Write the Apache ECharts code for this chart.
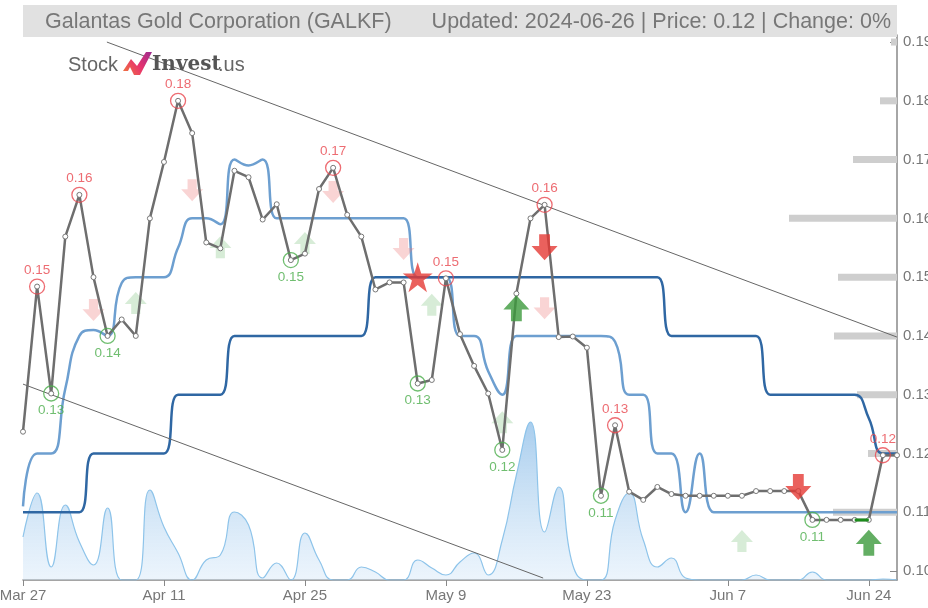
<!DOCTYPE html>
<html>
<head>
<meta charset="utf-8">
<title>GALKF</title>
<script src="https://cdn.jsdelivr.net/npm/echarts@6.0.0/dist/echarts.min.js"></script>
<style>
  html, body { margin: 0; padding: 0; background: #fff; }
  #chart { width: 928px; height: 608px; }
</style>
</head>
<body>
<div id="chart"></div>
<script>
// trading days shown on the x axis
var dates = ['Mar 27','Mar 28','Apr 1','Apr 2','Apr 3','Apr 4','Apr 5','Apr 8','Apr 9','Apr 10',
    'Apr 11','Apr 12','Apr 15','Apr 16','Apr 17','Apr 18','Apr 19','Apr 22','Apr 23','Apr 24',
    'Apr 25','Apr 26','Apr 29','Apr 30','May 1','May 2','May 3','May 6','May 7','May 8',
    'May 9','May 10','May 13','May 14','May 15','May 16','May 17','May 20','May 21','May 22',
    'May 23','May 24','May 28','May 29','May 30','May 31','Jun 3','Jun 4','Jun 5','Jun 6',
    'Jun 7','Jun 10','Jun 11','Jun 12','Jun 13','Jun 14','Jun 17','Jun 18','Jun 20','Jun 21',
    'Jun 24','Jun 25','Jun 26'];

var price = [0.1237,0.1484,0.1302,0.1569,0.1640,0.1500,0.1400,0.1428,0.1400,0.1600,
    0.1696,0.1800,0.1745,0.1559,0.1549,0.1681,0.1670,0.1598,0.1624,0.1529,
    0.1540,0.1650,0.1686,0.1606,0.1569,0.1479,0.1491,0.1491,0.1319,0.1325,
    0.1498,0.1403,0.1349,0.1302,0.1206,0.1472,0.1600,0.1623,0.1398,0.1399,
    0.1380,0.1128,0.1248,0.1135,0.1121,0.1143,0.1131,0.1128,0.1128,0.1128,
    0.1128,0.1128,0.1136,0.1136,0.1136,0.1136,0.1087,0.1087,0.1087,0.1087,
    0.1087,0.1197,0.1197];

// short moving average (light blue) and long one (dark blue)
var maShort = [0.111,0.120,0.120,0.131,0.140,0.141,0.140,0.149,0.150,0.150,
    0.150,0.155,0.160,0.160,0.159,0.170,0.169,0.170,0.160,0.160,
    0.160,0.160,0.160,0.160,0.160,0.160,0.160,0.160,0.150,0.150,
    0.150,0.140,0.140,0.134,0.130,0.140,0.140,0.140,0.140,0.140,
    0.140,0.140,0.139,0.130,0.130,0.120,0.120,0.110,0.120,0.110,
    0.110,0.110,0.110,0.110,0.110,0.110,0.110,0.110,0.110,0.110,
    0.110,0.110,0.110];
var maLong = [0.11,0.11,0.11,0.11,0.11,0.12,0.12,0.12,0.12,0.12,
    0.12,0.13,0.13,0.13,0.13,0.14,0.14,0.14,0.14,0.14,
    0.14,0.14,0.14,0.14,0.14,0.15,0.15,0.15,0.15,0.15,
    0.15,0.15,0.15,0.15,0.15,0.15,0.15,0.15,0.15,0.15,
    0.15,0.15,0.15,0.15,0.15,0.15,0.14,0.14,0.14,0.14,
    0.14,0.14,0.14,0.13,0.13,0.13,0.13,0.13,0.13,0.13,
    0.126,0.12,0.12];

var volume = [43,87,13,75,38,15,72,0,0,90,
    53,27,0,20,25,68,55,2,17,0,
    47,20,0,0,13,8,0,0,20,12,
    5,18,27,5,40,105,158,48,93,15,
    0,0,60,87,40,13,22,2,0,0,
    0,0,5,0,0,0,8,0,0,0,
    0,1,0];

// local highs / lows
var highIdx = [1,4,11,22,30,37,42,61];
var highTxt = ['0.15','0.16','0.18','0.17','0.15','0.16','0.13','0.12'];
var lowIdx = [2,6,19,28,34,41,56];
var lowTxt = ['0.13','0.14','0.15','0.13','0.12','0.11','0.11'];

// signals [day index, price level]
var sellWeak = [[5,0.1444],[12,0.1648],[22,0.1645],[27,0.1548],[37,0.1447]];
var buyWeak = [[8,0.1456],[14,0.1551],[20,0.1558],[29,0.1453],[34,0.1253],[51,0.1051]];
var sellStrong = [[37,0.1551],[55,0.1143]];
var buyStrong = [[35,0.1447],[60,0.1048]];
var starSig = [[28,0.150]];

// trend channel
var trendUpper = [[5.95,0.19],[62,0.1398]];
var trendLower = [[0,0.1318],[36.9,0.0988]];

// volume by price level
var levels = [0.19,0.18,0.17,0.16,0.15,0.14,0.13,0.12,0.11];
var levelVol = [6,17,44,108,59,63,40,29,64];

var yTicks = [0.10,0.11,0.12,0.13,0.14,0.15,0.16,0.17,0.18,0.19];

var downPath = 'path://M7,0 L17,0 L17,11 L24,11 L12,24 L0,11 L7,11 Z';
var upPath = 'path://M12,0 L24,13 L17,13 L17,24 L7,24 L7,13 L0,13 Z';
var starPath = 'path://M12,0 L14.8,8.6 L24,8.6 L16.6,14 L19.4,22.8 L12,17.4 L4.6,22.8 L7.4,14 L0,8.6 L9.2,8.6 Z';

var highPts = highIdx.map(function (d, k) { return { value: [d, price[d]], label: { formatter: highTxt[k] } }; });
var lowPts = lowIdx.map(function (d, k) { return { value: [d, price[d]], label: { formatter: lowTxt[k] } }; });

var greenSeg = price.map(function (v, i) { return (i == 59 || i == 60) ? v : null; });

var font = "'Liberation Sans', Arial, sans-serif";

var myChart = echarts.init(document.getElementById('chart'));

var option = {
    animation: false,
    grid: { left: 23, right: 31, top: 35, bottom: 28, outerBoundsMode: 'none', containLabel: false },
    graphic: [
        { type: 'rect', shape: { x: 23, y: 5, width: 874, height: 32 }, style: { fill: '#e1e1e1' }, z: 10 },
        { type: 'text', x: 45, y: 22, z: 11, style: { text: 'Galantas Gold Corporation (GALKF)', font: '21.5px ' + font, fill: '#777', textVerticalAlign: 'middle' } },
        { type: 'text', x: 891, y: 22, z: 11, style: { text: 'Updated: 2024-06-26 | Price: 0.12 | Change: 0%', font: '21.5px ' + font, fill: '#777', textAlign: 'right', textVerticalAlign: 'middle' } },
        // logo
        { type: 'text', x: 68, y: 65, z: 11, style: { text: 'Stock', font: '20px ' + font, fill: '#666', textVerticalAlign: 'middle' } },
        { type: 'polygon', z: 11, shape: { points: [[123,71],[131,59],[137,66],[146,52],[152,52],[140,75],[134,75],[130,67],[128,71]] },
          style: { fill: new echarts.graphic.LinearGradient(0, 1, 1, 0, [
              { offset: 0, color: '#f07a3a' }, { offset: 0.5, color: '#e8336d' }, { offset: 1, color: '#9b2c8f' }]) } },
        { type: 'text', x: 152, y: 65, z: 11, style: { text: 'Invest', font: 'bold 20px "DejaVu Serif", serif', fill: '#555', textVerticalAlign: 'middle' } },
        { type: 'text', x: 218, y: 65, z: 11, style: { text: '.us', font: '20px ' + font, fill: '#666', textVerticalAlign: 'middle' } }
    ],
    xAxis: [{
        type: 'category',
        data: dates,
        boundaryGap: false,
        axisLine: { onZero: false, lineStyle: { color: '#888', width: 1.5 } },
        axisTick: { interval: 9, length: 6, lineStyle: { color: '#888' } },
        axisLabel: { interval: 9, color: '#777', fontSize: 15, fontFamily: font, margin: 8, hideOverlap: false },
        splitLine: { show: false }
    }, {
        type: 'value', min: 0, max: 62, show: false
    }, {
        type: 'value', min: 0, max: 874, inverse: true, show: false
    }],
    yAxis: [{
        type: 'value',
        position: 'right',
        min: 0.09847,
        max: 0.1912,
        axisLine: { show: true, onZero: false, lineStyle: { color: '#888', width: 1.5 } },
        axisTick: { show: true, inside: true, length: 7, customValues: yTicks, lineStyle: { color: '#888' } },
        axisLabel: { customValues: yTicks, color: '#777', fontSize: 15, fontFamily: font, margin: 6,
            formatter: function (v) { return v.toFixed(2); } },
        splitLine: { show: false }
    }, {
        type: 'value', min: 0, max: 545, show: false
    }],
    series: [
        {
            name: 'profile', type: 'custom', xAxisIndex: 2, yAxisIndex: 0, z: 1,
            data: levels.map(function (l, k) { return [levelVol[k], l]; }),
            renderItem: function (params, api) {
                var a = api.coord([0, api.value(1)]);
                var b = api.coord([api.value(0), api.value(1)]);
                return { type: 'rect', shape: { x: b[0], y: a[1] - 3.5, width: a[0] - b[0], height: 7 }, style: { fill: '#cecece' } };
            }
        },
        {
            name: 'volume', type: 'line', yAxisIndex: 1, smooth: true, symbol: 'none', z: 2,
            data: volume,
            lineStyle: { color: '#8ec4ea', width: 1.2 },
            areaStyle: { color: new echarts.graphic.LinearGradient(0, 0, 0, 1, [
                { offset: 0, color: 'rgba(110,172,226,0.85)' },
                { offset: 1, color: 'rgba(210,230,248,0.6)' }]) }
        },
        {
            name: 'maShort', type: 'line', smooth: true, symbol: 'none', z: 3,
            data: maShort, lineStyle: { color: '#6d9fd0', width: 2.5 }
        },
        {
            name: 'maLong', type: 'line', smooth: true, symbol: 'none', z: 3,
            data: maLong, lineStyle: { color: '#2f67a3', width: 2.5 }
        },
        {
            name: 'trendUpper', type: 'line', xAxisIndex: 1, symbol: 'none', z: 3,
            data: trendUpper, lineStyle: { color: '#666', width: 1 }
        },
        {
            name: 'trendLower', type: 'line', xAxisIndex: 1, symbol: 'none', z: 3,
            data: trendLower, lineStyle: { color: '#666', width: 1 }
        },
        {
            name: 'sellWeak', type: 'scatter', symbol: downPath, symbolSize: [22, 22], z: 4,
            data: sellWeak, itemStyle: { color: 'rgba(236,120,120,0.4)' }
        },
        {
            name: 'buyWeak', type: 'scatter', symbol: upPath, symbolSize: [22, 22], z: 4,
            data: buyWeak, itemStyle: { color: 'rgba(110,185,110,0.35)' }
        },
        {
            name: 'price', type: 'line', z: 5,
            data: price,
            lineStyle: { color: '#6e6e6e', width: 2.5 },
            symbol: 'circle', symbolSize: 5, showAllSymbol: true,
            itemStyle: { color: '#fff', borderColor: '#777', borderWidth: 1 }
        },
        {
            name: 'greenSeg', type: 'line', z: 6, symbol: 'none',
            data: greenSeg, lineStyle: { color: '#1c8c1c', width: 3 }
        },
        {
            name: 'highs', type: 'scatter', z: 7, symbol: 'circle', symbolSize: 15,
            data: highPts,
            itemStyle: { color: 'rgba(0,0,0,0)', borderColor: '#e8474f', borderWidth: 1.3 },
            label: { show: true, position: 'top', distance: 1, color: '#e8474f', fontSize: 13.5, fontFamily: font }
        },
        {
            name: 'lows', type: 'scatter', z: 7, symbol: 'circle', symbolSize: 15,
            data: lowPts,
            itemStyle: { color: 'rgba(0,0,0,0)', borderColor: '#4cae4c', borderWidth: 1.3 },
            label: { show: true, position: 'bottom', distance: 2, color: '#4cae4c', fontSize: 13.5, fontFamily: font }
        },
        {
            name: 'sellStrong', type: 'scatter', symbol: downPath, symbolSize: [26, 26], z: 8,
            data: sellStrong, itemStyle: { color: '#e53935' }
        },
        {
            name: 'buyStrong', type: 'scatter', symbol: upPath, symbolSize: [26, 26], z: 8,
            data: buyStrong, itemStyle: { color: '#3c9a3c' }
        },
        {
            name: 'star', type: 'scatter', symbol: starPath, symbolSize: [30, 30], z: 8,
            data: starSig, itemStyle: { color: '#e53935' }
        }
    ]
};

myChart.setOption(option);
</script>
</body>
</html>
